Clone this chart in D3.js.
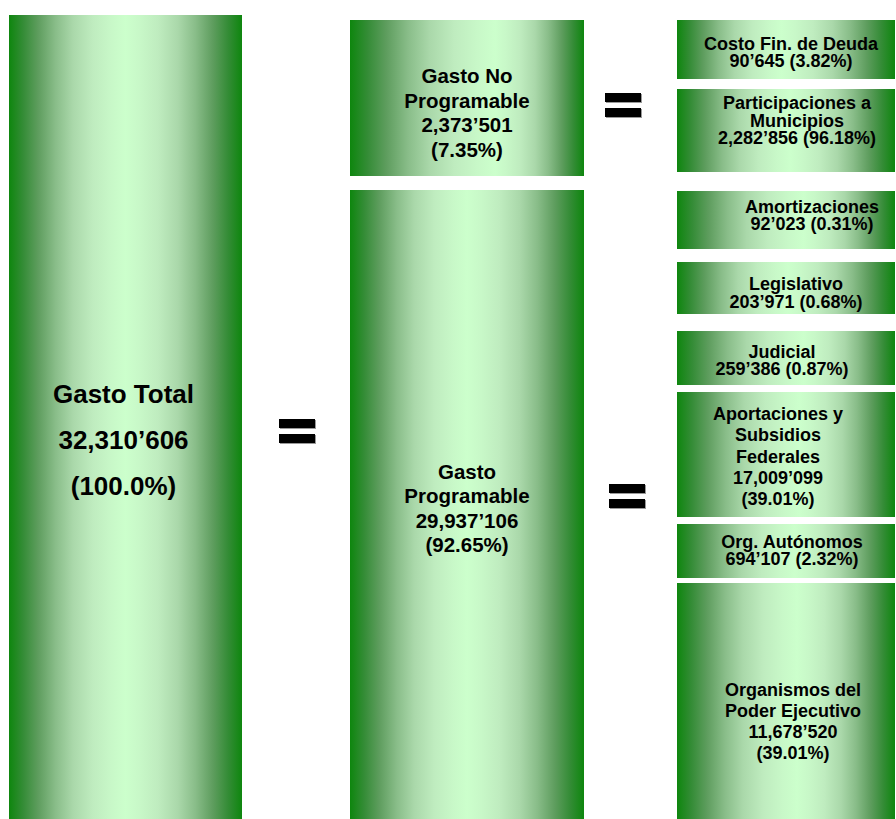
<!DOCTYPE html>
<html>
<head>
<meta charset="utf-8">
<script src="https://cdn.jsdelivr.net/npm/d3@7"></script>
<style>
  html, body { margin: 0; padding: 0; background: #ffffff; }
  svg { display: block; }
  text { font-family: "Liberation Sans", Arial, Helvetica, sans-serif; font-weight: bold; fill: #000; }
</style>
</head>
<body>
<svg id="chart" width="896" height="819"></svg>
<script>
// ---------- DATA ----------
const level0Names = ["Gasto Total"];
const level0Amounts = [32310606];
const level0Shares = [100.0];

const level1Names = ["Gasto No\nProgramable", "Gasto\nProgramable"];
const level1Amounts = [2373501, 29937106];
const level1Shares = [7.35, 92.65];

const level2Names = [
  "Costo Fin. de Deuda",
  "Participaciones a\nMunicipios",
  "Amortizaciones",
  "Legislativo",
  "Judicial",
  "Aportaciones y\nSubsidios\nFederales",
  "Org. Autónomos",
  "Organismos del\nPoder Ejecutivo"
];
const level2Amounts = [90645, 2282856, 92023, 203971, 259386, 17009099, 694107, 11678520];
const level2Shares = [3.82, 96.18, 0.31, 0.68, 0.87, 39.01, 2.32, 39.01];

// ---------- LAYOUT (diagram geometry, not data) ----------
const columns = [
  { x0: 9,   x1: 242 },
  { x0: 350, x1: 584 },
  { x0: 677, x1: 895 }
];
// per box: top, bottom, first baseline, line gap, text dx, gradient centre, font size, value lines split
const layout0 = [
  { y0: 15, y1: 819, base: 403, gap: 46, dx: -2, mid: 0.5, fs: 26, split: true }
];
const layout1 = [
  { y0: 20,  y1: 176, base: 83,  gap: 24.7, dx: 0, mid: 0.62, fs: 20.5, split: true },
  { y0: 190, y1: 819, base: 479, gap: 24.3, dx: 0, mid: 0.5,  fs: 20.5, split: true }
];
const layout2 = [
  { y0: 20,  y1: 79,  base: 50,  gap: 17,   dx: 5,  mid: 0.48, fs: 18, split: false },
  { y0: 89,  y1: 172, base: 109, gap: 17.5, dx: 11, mid: 0.52, fs: 18, split: false },
  { y0: 191, y1: 249, base: 213, gap: 17,   dx: 26, mid: 0.58, fs: 18, split: false },
  { y0: 262, y1: 314, base: 290, gap: 18,   dx: 10, mid: 0.51, fs: 18, split: false },
  { y0: 331, y1: 385, base: 358, gap: 17,   dx: -4, mid: 0.58, fs: 18, split: false },
  { y0: 392, y1: 517, base: 420, gap: 21.3, dx: -8, mid: 0.56, fs: 18, split: true },
  { y0: 524, y1: 578, base: 548, gap: 17,   dx: 6,  mid: 0.54, fs: 18, split: false },
  { y0: 583, y1: 819, base: 696, gap: 21,   dx: 7,  mid: 0.55, fs: 18, split: true }
];
const equalsSigns = [
  { x: 279, y: 419 },
  { x: 605, y: 93 },
  { x: 609, y: 484 }
];

// ---------- HELPERS ----------
function fmtAmount(v) {
  const s = String(Math.round(v));
  const groups = [];
  for (let i = s.length; i > 0; i -= 3) groups.unshift(s.slice(Math.max(0, i - 3), i));
  // thousands separated by ’ , millions by ,
  let out = groups[groups.length - 1];
  for (let g = groups.length - 2; g >= 0; g--) {
    const sep = (groups.length - 1 - g) === 1 ? "\u2019" : ",";
    out = groups[g] + sep + out;
  }
  return out;
}
const fmtPct1 = d3.format(".1f");
const fmtPct2 = d3.format(".2f");

const svg = d3.select("#chart");
const defs = svg.append("defs");

// gradient side stops: t from edge (0) to centre (1)
const sideStops = [
  [0.00, "#0e860e"],
  [0.12, "#348c36"],
  [0.25, "#5e9d5e"],
  [0.40, "#89bd89"],
  [0.55, "#aad8aa"],
  [0.72, "#bfecbf"],
  [0.88, "#c8f8c8"],
  [1.00, "#ccffcc"]
];

let gid = 0;
function makeGradient(mid) {
  const id = "g" + (gid++);
  const g = defs.append("linearGradient").attr("id", id)
    .attr("x1", "0%").attr("x2", "100%").attr("y1", "0%").attr("y2", "0%");
  const left = d3.scaleLinear().domain([0, 1]).range([0, mid]);
  const right = d3.scaleLinear().domain([0, 1]).range([1, mid]);
  sideStops.forEach(([t, c]) => g.append("stop").attr("offset", left(t)).attr("stop-color", c));
  sideStops.slice().reverse().forEach(([t, c]) => g.append("stop").attr("offset", right(t)).attr("stop-color", c));
  return id;
}

const yScale = d3.scaleLinear().domain([0, 819]).range([0, 819]);

function drawColumn(col, names, amounts, shares, lay, pctFmt) {
  const x = d3.scaleLinear().domain([0, 1]).range([col.x0, col.x1]);
  const data = names.map((n, i) => ({ name: n, amount: amounts[i], share: shares[i], l: lay[i] }));
  const g = svg.append("g");
  const boxes = g.selectAll("g.box").data(data).join("g").attr("class", "box");
  boxes.append("rect")
    .attr("x", x(0))
    .attr("y", d => yScale(d.l.y0))
    .attr("width", x(1) - x(0))
    .attr("height", d => yScale(d.l.y1) - yScale(d.l.y0))
    .attr("fill", d => "url(#" + makeGradient(d.l.mid) + ")");
  boxes.each(function(d) {
    const lines = d.name.split("\n");
    const amt = fmtAmount(d.amount);
    const pct = "(" + pctFmt(d.share) + "%)";
    if (d.l.split) { lines.push(amt); lines.push(pct); }
    else lines.push(amt + " " + pct);
    const cx = x(0.5) + d.l.dx;
    d3.select(this).selectAll("text").data(lines).join("text")
      .attr("x", cx)
      .attr("y", (t, i) => yScale(d.l.base + i * d.l.gap))
      .attr("text-anchor", "middle")
      .attr("font-size", d.l.fs)
      .text(t => t);
  });
}

drawColumn(columns[0], level0Names, level0Amounts, level0Shares, layout0, fmtPct1);
drawColumn(columns[1], level1Names, level1Amounts, level1Shares, layout1, fmtPct2);
drawColumn(columns[2], level2Names, level2Amounts, level2Shares, layout2, fmtPct2);

// equals signs
const eq = svg.append("g").selectAll("g").data(equalsSigns).join("g")
  .attr("transform", d => `translate(${d.x},${d.y})`);
[0, 15].forEach(off => {
  eq.append("rect").attr("x", 1).attr("y", off + 1).attr("width", 36).attr("height", 9).attr("fill", "#999");
  eq.append("rect").attr("x", 0).attr("y", off).attr("width", 36).attr("height", 9).attr("fill", "#000");
});
</script>
</body>
</html>
